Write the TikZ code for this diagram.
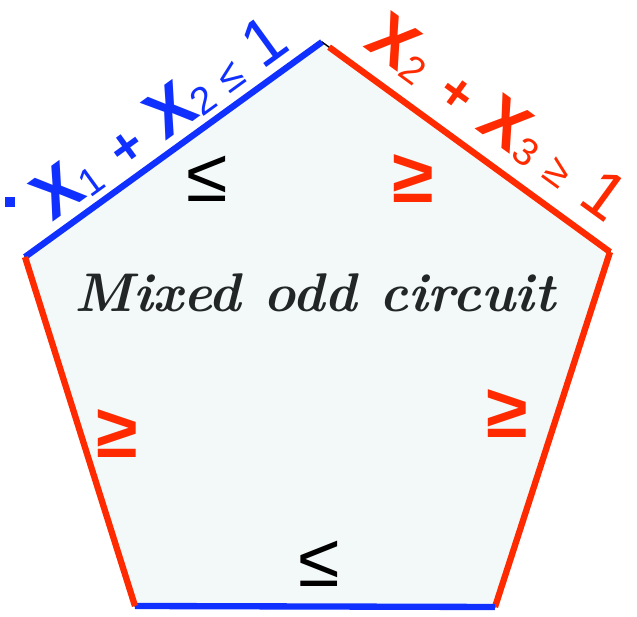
\documentclass[tikz,border=0pt]{standalone}
\usepackage{fontspec}
\newfontfamily\labelfont{Liberation Sans}
\newfontfamily\titlefont{Latin Modern Roman}
\definecolor{edgeblue}{RGB}{16,48,255}
\definecolor{edgered}{RGB}{255,42,0}
\definecolor{facebg}{RGB}{243,249,249}
\definecolor{titlegray}{RGB}{34,38,38}
\newcommand{\fsz}[1]{\fontsize{#1}{#1}\selectfont}
\newcommand{\subidx}[1]{\raisebox{-0.15em}{\fsz{22}\mdseries #1}}
\usetikzlibrary{positioning}

\begin{document}
\begin{tikzpicture}[x=0.02cm, y=-0.02cm,
      face/.style={draw=black, line width=0.8pt, fill=facebg},
      bedge/.style={draw=edgeblue, line width=3.6pt},
      redge/.style={draw=edgered, line width=3.6pt},
      cons/.style={font=\labelfont, inner sep=0pt},
      lesign/.style={font=\labelfont\fsz{43}, inner sep=0pt, anchor=base},
      gesign/.style={font=\labelfont\bfseries\fsz{43}, text=edgered,
                     inner sep=0pt, anchor=base},
      title/.style={font=\titlefont\bfseries\itshape\fsz{31},
                    text=titlegray, inner sep=0pt, anchor=base}
  ]
    \useasboundingbox (0,0) rectangle (637,617);
    % corners of the circuit
    \coordinate (top) at (322,42);
    \coordinate (ul)  at (25,257);
    \coordinate (ur)  at (610,252);
    \coordinate (ll)  at (135,606);
    \coordinate (lr)  at (495,607);
    \draw[face] (top) -- (ur) -- (lr) -- (ll) -- (ul) -- cycle;
    \draw[bedge] (ul) -- (top);
    \draw[redge, shorten <=5pt] (top) -- (ur);
    \draw[redge] (ur) -- (lr);
    \draw[bedge] (ll) -- (lr);
    \draw[redge] (ul) -- (ll);
    % constraints on the upper edges
    \node[fill=edgeblue, minimum size=0.2cm, inner sep=0pt] (dot) at (10,202) {};
    \node[cons, text=edgeblue, rotate=36] (c12) at (160,118)
      {{\fsz{38}\bfseries X}\subidx{1}\hspace{13pt}{\fsz{30}\bfseries +}\hspace{11pt}{\fsz{38}\bfseries X}\subidx{2}\hspace{8pt}{\fsz{24}≤}\hspace{10pt}{\fsz{38}1}};
    \node[cons, text=edgered, rotate=-36] (c23) at (497,118)
      {{\fsz{38}\bfseries X}\subidx{2}\hspace{13pt}{\fsz{30}\bfseries +}\hspace{11pt}{\fsz{38}\bfseries X}\subidx{3}\hspace{9pt}{\fsz{24}≥}\hspace{12pt}{\fsz{38}1}};
    \node[title] (name) at (315,312) {Mixed odd circuit};
    % signs inside
    \node[lesign] (s1) at (207,202) {≤};
    \node[gesign] (s2) at (413,203) {≥};
    \node[gesign] (s3) at (117,458) {≥};
    \node[gesign] (s4) at (507,438) {≥};
    \node[lesign] (s5) at (319,587) {≤};
  \end{tikzpicture}
\end{document}
